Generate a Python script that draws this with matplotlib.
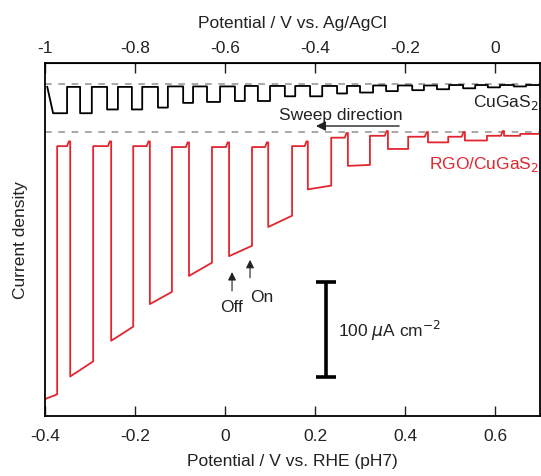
import numpy as np
import matplotlib
matplotlib.use('Agg')
from matplotlib import pyplot as plt

plt.rcParams['font.family'] = ['Liberation Sans', 'DejaVu Sans']
plt.rcParams['axes.unicode_minus'] = False

# RGO/CuGaS2 chopped-light trace (potential in V vs RHE, current in uA cm-2)
red_on_lo = [-0.400, -0.344, -0.253, -0.167, -0.080, 0.009, 0.096, 0.184, 0.273, 0.362, 0.451, 0.533, 0.620]
red_on_hi = [-0.373, -0.293, -0.204, -0.118, -0.029, 0.060, 0.149, 0.236, 0.322, 0.407, 0.496, 0.582, 0.656]
red_on_j0 = [-284, -260, -222, -183, -153, -132, -101, -61, -36, -18, -11, -9, -4]
red_on_j1 = [-279, -244, -207, -170, -139, -121, -89, -57, -35, -18, -11, -9, -4]
red_dark = [-15, -15, -15, -16, -16, -16, -15, -6, -4, -5, -5, -4, -2]

# CuGaS2 chopped-light trace
blk_on_lo = [-0.382, -0.322, -0.262, -0.207, -0.149, -0.093, -0.040, 0.022, 0.073, 0.133,
             0.189, 0.249, 0.300, 0.358, 0.416, 0.471, 0.529, 0.584, 0.642]
blk_on_hi = [-0.351, -0.296, -0.238, -0.184, -0.127, -0.071, -0.011, 0.044, 0.100, 0.156,
             0.216, 0.271, 0.329, 0.384, 0.442, 0.498, 0.556, 0.611, 0.669]
blk_on_j = [-31, -31, -27, -27, -25, -20, -19, -18, -18, -13, -13, -10, -9, -7.5, -6.5,
            -5.5, -4.5, -3.5, -2.5]
blk_dark = [-3, -3, -3, -3, -2.5, -2.5, -2.5, -2, -2, -2, -2, -2, -1.5, -1.5, -1.5, -1, -1, -1, -1]
blk_offset = 51

x_ticks = [-0.4, -0.2, 0, 0.2, 0.4, 0.6]
x_labels = ['-0.4', '-0.2', '0', '0.2', '0.4', '0.6']
top_ticks = [-1, -0.8, -0.6, -0.4, -0.2, 0]
top_labels = ['-1', '-0.8', '-0.6', '-0.4', '-0.2', '0']


def chopped(lo, hi, j0, j1, dark, x_end, spike=0.0):
    # light on between lo and hi, dark current in between
    E, J = [], []
    for i in range(len(lo)):
        E += [lo[i], lo[i], hi[i], hi[i]]
        J += [dark[i - 1] + spike if i > 0 else j0[0], j0[i], j1[i], dark[i]]
        nxt = lo[i + 1] if i + 1 < len(lo) else x_end
        if spike and i + 1 < len(lo):
            E += [nxt - 0.007, nxt - 0.003]
            J += [dark[i], dark[i] + spike]
        else:
            E += [nxt]
            J += [dark[i]]
    return np.array(E), np.array(J)


fig = plt.figure(figsize=(5.41, 4.77), dpi=100)
ax = fig.add_axes([0.0832, 0.1258, 0.915, 0.74])

col_red = '#e2262f'
txt = '#222222'

ax.axhline(0, color='#999999', lw=1.2, ls=(0, (4, 4)))
ax.axhline(blk_offset, color='#999999', lw=1.2, ls=(0, (4, 4)))

E, J = chopped(blk_on_lo, blk_on_hi, blk_on_j, blk_on_j, blk_dark, 0.7)
E = np.concatenate([[-0.395], E])
J = np.concatenate([[blk_dark[0]], J])
ax.plot(E, J + blk_offset, color='black', lw=1.3)

E, J = chopped(red_on_lo, red_on_hi, red_on_j0, red_on_j1, red_dark, 0.7, spike=5)
ax.plot(E, J, color=col_red, lw=1.3)

ax.set_xlim(-0.4, 0.7)
ax.set_ylim(-302, 73.4)
ax.set_yticks([])
ax.set_xticks(x_ticks)
ax.set_xticklabels(x_labels)
ax.tick_params(axis='x', direction='in', length=7, width=1, labelsize=12.5, colors=txt, pad=9)
ax.set_xlabel('Potential / V vs. RHE (pH7)', fontsize=12.5, color=txt, labelpad=7)
ax.set_ylabel('Current density', fontsize=12.5, color=txt, labelpad=12)
for s in ax.spines.values():
    s.set_linewidth(1.3)

top = ax.secondary_xaxis('top', functions=(lambda v: v - 0.6, lambda v: v + 0.6))
top.set_xticks(top_ticks)
top.set_xticklabels(top_labels)
top.tick_params(axis='x', direction='in', length=7, width=1, labelsize=12.5, colors=txt, pad=6)
top.set_xlabel('Potential / V vs. Ag/AgCl', fontsize=12.5, color=txt, labelpad=9)

ax.text(0.697, 32, 'CuGaS$_2$', fontsize=12.5, color=txt, ha='right', va='center')
ax.text(0.697, -34, 'RGO/CuGaS$_2$', fontsize=12.5, color=col_red, ha='right', va='center')
ax.text(0.258, 19, 'Sweep direction', fontsize=12.5, color=txt, ha='center', va='center')
ax.annotate('', xy=(0.196, 6.4), xytext=(0.393, 6.4),
            arrowprops=dict(arrowstyle='-|>', color=txt, lw=1, mutation_scale=14))

ax.annotate('', xy=(0.0156, -146), xytext=(0.0156, -172),
            arrowprops=dict(arrowstyle='-|>', color=txt, lw=0.8, mutation_scale=12))
ax.annotate('', xy=(0.0556, -133), xytext=(0.0556, -158),
            arrowprops=dict(arrowstyle='-|>', color=txt, lw=0.8, mutation_scale=12))
ax.text(0.0156, -186, 'Off', fontsize=12.5, color=txt, ha='center', va='center')
ax.text(0.082, -175, 'On', fontsize=12.5, color=txt, ha='center', va='center')

# scale bar: 100 uA cm-2
ax.errorbar([0.2244], [-210], yerr=[50], color='black', lw=2.6, capsize=7, capthick=2.6)
ax.text(0.251, -210, '100 $\\mu$A cm$^{-2}$', fontsize=12.5, color=txt, ha='left', va='center')

fig.savefig('out.png', dpi=100)
